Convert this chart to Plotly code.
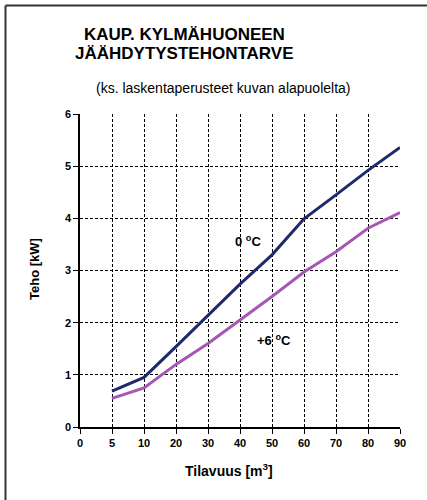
import plotly.graph_objects as go

# Data
x_labels = [0, 5, 10, 20, 30, 40, 50, 60, 70, 80, 90]
volumes = [5, 10, 20, 30, 40, 50, 60, 70, 80, 90]
power_0c = [0.69, 0.95, 1.54, 2.14, 2.74, 3.30, 3.99, 4.45, 4.92, 5.36]
power_6c = [0.55, 0.75, 1.20, 1.60, 2.05, 2.50, 2.97, 3.36, 3.81, 4.11]
y_ticks = [0, 1, 2, 3, 4, 5, 6]

x_pos = [x_labels.index(v) for v in volumes]
FONT = "Liberation Sans, Arial, sans-serif"

fig = go.Figure()
fig.add_trace(go.Scatter(x=x_pos, y=power_0c, mode="lines",
                         line=dict(color="#1F2A6B", width=3), showlegend=False))
fig.add_trace(go.Scatter(x=x_pos, y=power_6c, mode="lines",
                         line=dict(color="#A657B4", width=3), showlegend=False))

W, H = 427, 500
L, R, T, B = 80, 27, 114, 73
PW, PH = W - L - R, H - T - B

fig.update_layout(
    width=W, height=H,
    margin=dict(l=L, r=R, t=T, b=B, pad=0),
    paper_bgcolor="white", plot_bgcolor="white",
    font=dict(family=FONT, color="black"),
    xaxis=dict(
        range=[0, len(x_labels) - 1],
        tickmode="array",
        tickvals=list(range(len(x_labels))),
        ticktext=[f"<b>{v}</b>" for v in x_labels],
        tickfont=dict(size=11, family=FONT, color="black"),
        showgrid=True, gridcolor="black", gridwidth=1, griddash="3px,2px",
        showline=True, linecolor="black", linewidth=1.5,
        ticks="outside", ticklen=5, tickcolor="black", tickwidth=1,
        zeroline=False, fixedrange=True,
    ),
    yaxis=dict(
        range=[0, 6],
        tickmode="array",
        tickvals=y_ticks,
        ticktext=[f"<b>{v}</b>" for v in y_ticks],
        tickfont=dict(size=11, family=FONT, color="black"),
        showgrid=True, gridcolor="black", gridwidth=1, griddash="3px,2px",
        showline=True, linecolor="black", linewidth=1.5,
        ticks="outside", ticklen=5, tickcolor="black", tickwidth=1,
        zeroline=False, fixedrange=True,
    ),
)

def px_x(px):
    return (px - L) / PW

def px_y(py):
    return (H - B - py) / PH

annos = [
    dict(text="<b>KAUP. KYLMÄHUONEEN</b>", x=184, y=35, size=17),
    dict(text="<b>JÄÄHDYTYSTEHONTARVE</b>", x=184, y=54, size=17),
    dict(text="(ks. laskentaperusteet kuvan alapuolelta)", x=223, y=88, size=14),
    dict(text="<b>Tilavuus [m<sup>3</sup>]</b>", x=229, y=470, size=14),
]
for a in annos:
    fig.add_annotation(text=a["text"], xref="paper", yref="paper",
                       x=px_x(a["x"]), y=px_y(a["y"]), xanchor="center", yanchor="middle",
                       showarrow=False, font=dict(size=a["size"], family=FONT, color="black"))

fig.add_annotation(text="<b>Teho [kW]</b>", xref="paper", yref="paper",
                   x=px_x(34), y=px_y(269), xanchor="center", yanchor="middle",
                   textangle=-90, showarrow=False,
                   font=dict(size=13, family=FONT, color="black"))

# series labels placed in data coordinates
fig.add_annotation(text="<b>0 <sup>o</sup>C</b>", x=x_labels.index(40) + 0.25, y=3.57,
                   xanchor="center", yanchor="middle", showarrow=False,
                   font=dict(size=13, family=FONT, color="black"))
fig.add_annotation(text="<b>+6 <sup>o</sup>C</b>", x=x_labels.index(50) + 0.05, y=1.67,
                   xanchor="center", yanchor="middle", showarrow=False,
                   font=dict(size=13, family=FONT, color="black"))

# Outer frame (top and left edges)
fig.add_shape(type="line", xref="paper", yref="paper",
              x0=px_x(5.5), y0=px_y(5.5), x1=px_x(W), y1=px_y(5.5),
              line=dict(color="#333333", width=2))
fig.add_shape(type="line", xref="paper", yref="paper",
              x0=px_x(5.5), y0=px_y(5.5), x1=px_x(5.5), y1=px_y(H),
              line=dict(color="#333333", width=2))

fig.write_html("out.html", config={"displayModeBar": False},
               post_script="document.body.style.margin='0';")
